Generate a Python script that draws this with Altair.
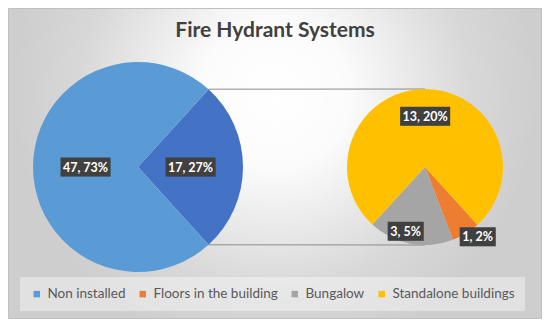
import math
import altair as alt
import pandas as pd

# ---------------- data ----------------
categories = ["Non installed", "Floors in the building", "Bungalow", "Standalone buildings"]
counts = [47, 1, 3, 13]
secondary = ["Floors in the building", "Bungalow", "Standalone buildings"]
other_label = "Other"
title_text = "Fire Hydrant Systems"

# ---------------- style / layout ----------------
colors = ["#5B9BD5", "#ED7D31", "#A5A5A5", "#FFC000"]
other_color = "#4472C4"
W, H = 534, 311
C1, R1 = (130, 159), 105
C2, R2 = (417, 159), 78
FONT = "Lato"
# label placement: (radius fraction, angle nudge in degrees)
label_style = {
    "Other": (0.5, 0), "Non installed": (0.5, 0),
    "Standalone buildings": (0.65, 0),
    "Bungalow": (0.86, 6),
    "Floors in the building": (1.12, -5.5),
}

total = sum(counts)
val = dict(zip(categories, counts))
other_val = sum(val[c] for c in secondary)

span_other = 2 * math.pi * other_val / total
a0 = math.pi / 2 - span_other / 2      # primary pie: 'Other' wedge centred on the right
b0 = a0 + span_other                   # secondary pie start angle

prim = pd.DataFrame({"name": [other_label, "Non installed"],
                     "value": [other_val, val["Non installed"]], "ord": [0, 1]})
sec = pd.DataFrame({"name": secondary, "value": [val[c] for c in secondary],
                    "ord": list(range(len(secondary)))})


def label_frame(df, center, R, start):
    rows = []
    cum = 0
    tot = df["value"].sum()
    for _, r in df.iterrows():
        v = r["value"]
        mid = start + 2 * math.pi * (cum + v / 2) / tot
        cum += v
        rf, nudge = label_style[r["name"]]
        ang = mid + math.radians(nudge)
        px = center[0] + rf * R * math.sin(ang)
        py = center[1] - rf * R * math.cos(ang)
        txt = f"{v}, {round(100 * v / total)}%"
        hw = (7 * len(txt) + 1) / 2
        hh = 9.5
        rows.append({"txt": txt, "px": px, "py": py,
                     "bx1": px - hw, "bx2": px + hw, "by1": py - hh, "by2": py + hh})
    return pd.DataFrame(rows)


labels = pd.concat([label_frame(prim, C1, R1, a0), label_frame(sec, C2, R2, b0)],
                   ignore_index=True)

# connector lines from the 'Other' wedge edges to top/bottom of the secondary pie
lines = pd.DataFrame({
    "x": [C1[0] + R1 * math.sin(a0), C1[0] + R1 * math.sin(b0)],
    "y": [C1[1] - R1 * math.cos(a0), C1[1] - R1 * math.cos(b0)],
    "x2": [C2[0], C2[0]],
    "y2": [C2[1] - R2, C2[1] + R2],
})

color_scale = alt.Scale(domain=categories + [other_label], range=colors + [other_color])
legend = alt.Legend(
    orient="none", legendX=12, legendY=269, direction="horizontal", columns=4,
    title=None, values=categories, symbolType="square", symbolSize=42,
    symbolStrokeWidth=0, labelFont=FONT, labelFontSize=13.5, labelColor="#595959",
    columnPadding=10, labelOffset=4, padding=10,
    fillColor="rgba(255,255,255,0.4)",
)

bg_fill = alt.RadialGradient(
    gradient="radial",
    stops=[alt.GradientStop(color="#ffffff", offset=0),
           alt.GradientStop(color="#fbfbfb", offset=0.2),
           alt.GradientStop(color="#d8d8d8", offset=0.52),
           alt.GradientStop(color="#cecece", offset=0.7)],
    x1=0.5, y1=0.37, x2=0.5, y2=0.37, r1=0, r2=0.7,
)

bg = alt.Chart(pd.DataFrame({"k": [0]})).mark_rect(
    fill=bg_fill, stroke="#c0c0c0", strokeWidth=1
).encode(x=alt.value(0.5), x2=alt.value(W - 0.5), y=alt.value(0.5), y2=alt.value(H - 0.5))

conn = alt.Chart(lines).mark_rule(color="#8c8c8c", strokeWidth=1).encode(
    x=alt.X("x:Q", scale=None), y=alt.Y("y:Q", scale=None),
    x2="x2:Q", y2="y2:Q")

pie1 = alt.Chart(prim).mark_arc(radius=R1).encode(
    x=alt.value(C1[0]), y=alt.value(C1[1]),
    theta=alt.Theta("value:Q", stack=True,
                    scale=alt.Scale(range=[a0, a0 + 2 * math.pi])),
    order=alt.Order("ord:Q"),
    color=alt.Color("name:N", scale=color_scale, legend=legend),
)
pie2 = alt.Chart(sec).mark_arc(radius=R2).encode(
    x=alt.value(C2[0]), y=alt.value(C2[1]),
    theta=alt.Theta("value:Q", stack=True,
                    scale=alt.Scale(range=[b0, b0 + 2 * math.pi])),
    order=alt.Order("ord:Q"),
    color=alt.Color("name:N", scale=color_scale, legend=legend),
)

shadow = alt.Chart(labels).mark_rect(color="#000000", opacity=0.25, xOffset=1.5, yOffset=1.5).encode(
    x=alt.X("bx1:Q", scale=None), x2="bx2:Q",
    y=alt.Y("by1:Q", scale=None), y2="by2:Q")
boxes = alt.Chart(labels).mark_rect(color="#404040").encode(
    x=alt.X("bx1:Q", scale=None), x2="bx2:Q",
    y=alt.Y("by1:Q", scale=None), y2="by2:Q")
texts = alt.Chart(labels).mark_text(
    color="#ffffff", font=FONT, fontWeight="bold", fontSize=12.5,
    align="center", baseline="middle", dy=0.5
).encode(x=alt.X("px:Q", scale=None), y=alt.Y("py:Q", scale=None), text="txt:N")

title = alt.Chart(pd.DataFrame({"t": [title_text]})).mark_text(
    font=FONT, fontWeight="bold", fontSize=21, color="#404040",
    align="center", baseline="alphabetic"
).encode(x=alt.value(W / 2), y=alt.value(29), text="t:N")

chart = alt.layer(bg, conn, pie1, pie2, shadow, boxes, texts, title).resolve_scale(
    theta="independent"
).properties(
    width=W, height=H, padding=0,
    autosize=alt.AutoSizeParams(type="none"),
).configure_view(stroke=None)

chart.save("out.html", embed_options={"renderer": "svg", "actions": False})
